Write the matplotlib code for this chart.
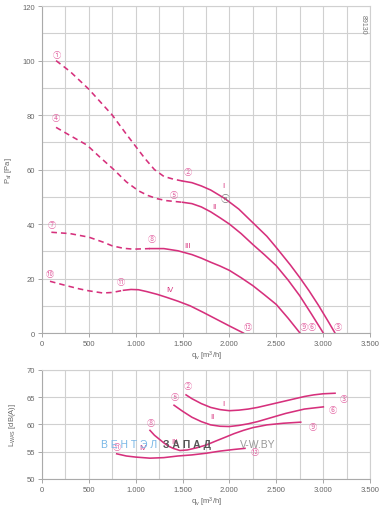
import matplotlib
matplotlib.use("Agg")
import matplotlib.pyplot as plt
from matplotlib.ticker import MultipleLocator, FuncFormatter

plt.rcParams["font.family"] = ["Liberation Sans", "Noto Sans CJK SC", "DejaVu Sans"]
plt.rcParams["mathtext.default"] = "regular"

PINK = "#d6307c"
LABEL_PINK = "#e46aa6"
GRID = "#d0d0d0"
TXT = "#666666"

# ---------- Pressure curves (q_v m3/h, P_sf Pa) ----------
p1_dash_q = [150, 300, 500, 750, 900, 1000, 1100, 1200, 1300, 1400, 1500]
p1_dash_p = [100, 96, 89.5, 80, 73, 68.5, 64, 60, 57.5, 56.5, 55.8]
p1_q = [1500, 1600, 1700, 1800, 1950, 2100, 2250, 2400, 2500, 2650, 2750, 2850, 2950, 3050, 3127]
p1_p = [55.8, 55.2, 54, 52.5, 49.4, 45.5, 40.5, 35.5, 31.4, 25, 20.4, 15.5, 10.2, 4.5, 0]

p2_dash_q = [150, 300, 480, 620, 760, 900, 1030, 1130, 1230, 1330, 1500]
p2_dash_p = [75.5, 72.5, 69, 64.5, 60.2, 55.5, 52.2, 50.5, 49.3, 48.6, 48]
p2_q = [1500, 1600, 1700, 1800, 1900, 2000, 2125, 2250, 2375, 2500, 2625, 2750, 2875, 3002]
p2_p = [48, 47.5, 46.3, 44.5, 42.3, 40, 36.5, 32.5, 28.7, 24.7, 19.5, 13.7, 7, 0]

p3_dash_q = [100, 300, 500, 650, 750, 870, 975, 1150]
p3_dash_p = [37, 36.5, 35.2, 33.4, 32, 31.1, 30.8, 31]
p3_q = [1150, 1300, 1450, 1600, 1700, 1800, 1900, 2000, 2125, 2250, 2375, 2500, 2625, 2753]
p3_p = [31, 31, 30.2, 28.8, 27.5, 26, 24.6, 23, 20.3, 17.4, 14, 10.5, 5.5, 0]

p4_dash_q = [85, 260, 400, 500, 650, 750, 870]
p4_dash_p = [19, 17.4, 16.2, 15.5, 14.7, 14.9, 15.7]
p4_q = [870, 950, 1030, 1120, 1230, 1330, 1450, 1580, 1720, 1860, 2000, 2150]
p4_p = [15.7, 16, 15.9, 15.2, 14.2, 13.1, 11.7, 10, 7.6, 5.1, 2.6, 0]

# ---------- Sound power curves (q_v m3/h, L_WAS dB(A)) ----------
s1_q = [1537, 1600, 1700, 1800, 1900, 2000, 2100, 2200, 2300, 2400, 2500, 2600, 2700, 2800, 2900, 3000, 3127]
s1_l = [65.4, 64.7, 63.8, 63.1, 62.7, 62.5, 62.6, 62.8, 63.1, 63.5, 63.9, 64.3, 64.7, 65.1, 65.4, 65.6, 65.7]
s2_q = [1409, 1500, 1600, 1700, 1800, 1900, 2000, 2100, 2200, 2300, 2400, 2500, 2600, 2700, 2800, 2900, 3002]
s2_l = [63.5, 62.4, 61.3, 60.5, 59.9, 59.65, 59.6, 59.8, 60.1, 60.5, 61.0, 61.5, 62.0, 62.4, 62.8, 63.0, 63.2]
s3_q = [1152, 1200, 1250, 1300, 1350, 1400, 1472, 1550, 1650, 1750, 1863, 1950, 2050, 2150, 2250, 2400, 2575, 2761]
s3_l = [58.9, 58.0, 57.3, 56.6, 56.0, 55.6, 55.2, 55.3, 55.7, 56.2, 57.0, 57.6, 58.3, 58.9, 59.4, 59.9, 60.2, 60.4]
s4_q = [797, 900, 1000, 1152, 1300, 1450, 1600, 1750, 1900, 2050, 2166]
s4_l = [54.6, 54.2, 54.0, 53.8, 53.9, 54.2, 54.4, 54.7, 55.1, 55.4, 55.6]

# ---------- point labels ----------
top_marks = ["①", "④", "②", "⑤", "⑦", "⑧", "⑩", "⑪", "⑫", "⑨", "⑥", "③"]
top_marks_q = [163, 150, 1562, 1409, 110, 1174, 85, 843, 2202, 2800, 2885, 3163]
top_marks_p = [102.4, 79.2, 59.2, 51, 39.7, 34.7, 22, 19.1, 2.3, 2.3, 2.3, 2.3]
top_roman = ["I", "II", "III", "IV"]
top_roman_q = [1935, 1836, 1555, 1366]
top_roman_p = [54.3, 46.5, 32, 16]

bot_marks = ["②", "⑤", "⑧", "⑪", "③", "⑥", "⑨", "⑫"]
bot_marks_q = [1554, 1419, 1159, 804, 3226, 3109, 2889, 2276]
bot_marks_l = [67.1, 65.1, 60.4, 56.0, 64.7, 62.8, 59.6, 55.0]
bot_roman = ["I", "II", "III", "IV"]
bot_roman_q = [1935, 1817, 1408, 1074]
bot_roman_l = [63.9, 61.4, 56.9, 55.8]


def thousands(v, pos):
    return f"{int(v):,}".replace(",", ".")


def style_axes(ax, ymin, ymax, ymajor, yminor):
    ax.set_xlim(0, 3500)
    ax.set_ylim(ymin, ymax)
    ax.xaxis.set_major_locator(MultipleLocator(500))
    ax.xaxis.set_minor_locator(MultipleLocator(250))
    ax.yaxis.set_major_locator(MultipleLocator(ymajor))
    ax.yaxis.set_minor_locator(MultipleLocator(yminor))
    ax.xaxis.set_major_formatter(FuncFormatter(thousands))
    ax.grid(which="both", color=GRID, linewidth=0.8)
    ax.set_axisbelow(True)
    ax.tick_params(which="major", length=3, width=0.6, color="#999999",
                   labelsize=5.5, labelcolor=TXT, pad=2)
    ax.tick_params(which="minor", length=0)
    for s in ax.spines.values():
        s.set_color(GRID)
        s.set_linewidth(0.8)
    ax.spines["left"].set_color("#aaaaaa")
    ax.spines["bottom"].set_color("#aaaaaa")
    ax.set_xlabel("q$_v$ [m$^3$/h]", fontsize=5.5, color=TXT, labelpad=1)


fig = plt.figure(figsize=(3.9, 5.1), dpi=100)
ax1 = fig.add_axes([0.1077, 0.345, 0.841, 0.641])
ax2 = fig.add_axes([0.1077, 0.059, 0.841, 0.214])

style_axes(ax1, 0, 120, 20, 10)
style_axes(ax2, 50, 70, 5, 5)
ax1.set_ylabel("P$_{sf}$ [Pa]", fontsize=5.5, color=TXT, labelpad=6)
ax2.set_ylabel("L$_{WAS}$ [dB(A)]", fontsize=5.5, color=TXT, labelpad=6)

dash = dict(color=PINK, linewidth=1.15, linestyle=(0, (3.5, 2.5)))
solid = dict(color=PINK, linewidth=1.15)
for dq, dp, q, p in [(p1_dash_q, p1_dash_p, p1_q, p1_p),
                     (p2_dash_q, p2_dash_p, p2_q, p2_p),
                     (p3_dash_q, p3_dash_p, p3_q, p3_p),
                     (p4_dash_q, p4_dash_p, p4_q, p4_p)]:
    ax1.plot(dq, dp, **dash)
    ax1.plot(q, p, **solid)

for q, l in [(s1_q, s1_l), (s2_q, s2_l), (s3_q, s3_l), (s4_q, s4_l)]:
    ax2.plot(q, l, **solid)

for t, q, p in zip(top_marks, top_marks_q, top_marks_p):
    ax1.text(q, p, t, fontsize=6, color=LABEL_PINK, ha="center", va="center",
             family=["Noto Sans CJK SC", "DejaVu Sans"])
for t, q, p in zip(top_roman, top_roman_q, top_roman_p):
    ax1.text(q, p, t, fontsize=5.5, color=PINK, ha="center", va="center")
# operating point marker
ax1.text(1953, 49.4, "ⓝ", fontsize=6.5, color="#777777", ha="center", va="center",
         family=["Noto Sans CJK SC", "DejaVu Sans"])
ax1.text(3430, 117, "89130", fontsize=5, color="#777777", rotation=270,
         ha="center", va="top")

for t, q, l in zip(bot_marks, bot_marks_q, bot_marks_l):
    ax2.text(q, l, t, fontsize=6, color=LABEL_PINK, ha="center", va="center",
             family=["Noto Sans CJK SC", "DejaVu Sans"])
for t, q, l in zip(bot_roman, bot_roman_q, bot_roman_l):
    ax2.text(q, l, t, fontsize=5.5, color=PINK, ha="center", va="center")

# watermark (overlaps the chart labels in the original too)
fig.text(101 / 390, 1 - 445 / 510, "В Е Н Т Э Л", fontsize=7.5, color="#79b7e6",
         ha="left", va="center")
fig.text(163 / 390, 1 - 445 / 510, "З А П А Д", fontsize=7.5, color="#555555",
         ha="left", va="center", fontweight="bold")
fig.text(240 / 390, 1 - 445 / 510, "V-W.BY", fontsize=7.5, color="#999999",
         ha="left", va="center")

fig.savefig("out.png", dpi=100)
